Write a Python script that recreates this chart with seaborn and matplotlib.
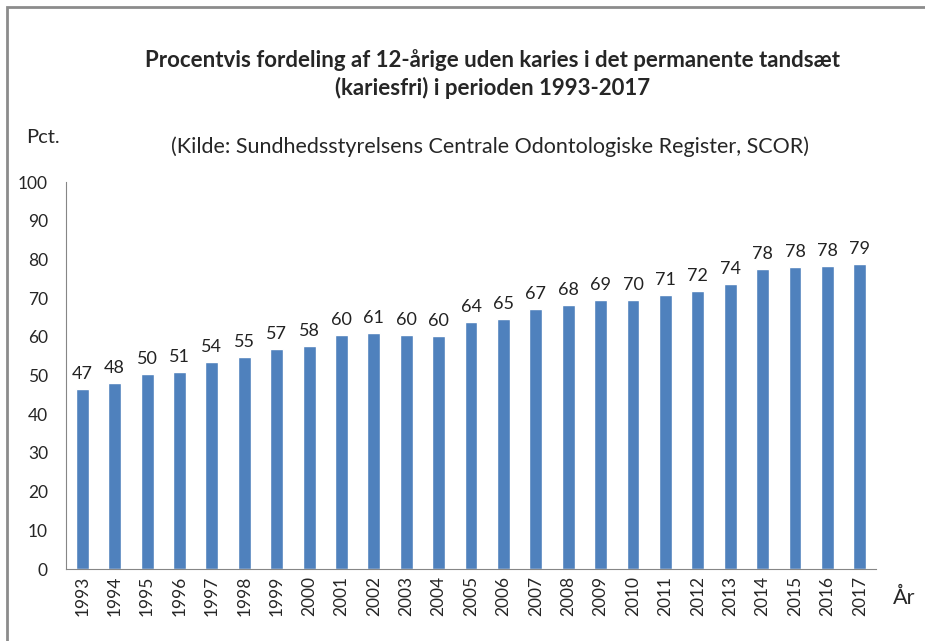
import numpy as np
import pandas as pd
import matplotlib
matplotlib.use("Agg")
import matplotlib.pyplot as plt
import seaborn as sns
from matplotlib.patches import Rectangle

aar = [str(a) for a in range(1993, 2018)]
kariesfri = [46.5, 48.1, 50.5, 51.0, 53.5, 54.7, 56.8, 57.6, 60.4, 60.9,
             60.4, 60.1, 63.8, 64.5, 67.2, 68.2, 69.4, 69.4, 70.9, 71.8,
             73.6, 77.5, 78.0, 78.3, 78.8]
etiketter = [47, 48, 50, 51, 54, 55, 57, 58, 60, 61, 60, 60, 64, 65, 67, 68,
             69, 70, 71, 72, 74, 78, 78, 78, 79]

df = pd.DataFrame({"aar": aar, "pct": kariesfri})

sns.set_style("white")
plt.rcParams['font.family'] = ['Lato', 'DejaVu Sans']

fig = plt.figure(figsize=(9.25, 6.41), dpi=100)
ax = fig.add_axes([0.0714, 0.1123, 0.8756, 0.6037])

sns.barplot(data=df, x="aar", y="pct", color="#4F81BD", width=0.4,
            saturation=1, ax=ax)

# dataetiketter over søjlerne
for i, v in enumerate(etiketter):
    ax.text(i, kariesfri[i] + 1.8, str(v), ha="center", va="bottom", fontsize=13, color="#222222")

ax.set_ylim(0, 100)
ax.set_xlim(-0.5, len(aar) - 0.5)
ax.set_yticks(range(0, 101, 10))
ax.set_xticks(np.arange(-0.5, len(aar), 1), minor=False)
ax.set_xticklabels([])
ax.set_xticks(range(len(aar)), minor=True)
ax.set_xticklabels(aar, minor=True, rotation=90, fontsize=12.5)
ax.tick_params(axis="x", which="major", length=5, color="#868686", direction="out")
ax.tick_params(axis="x", which="minor", length=0, pad=5)
ax.tick_params(axis="y", length=5, color="#868686", direction="out", labelsize=12.5, pad=8)
ax.set_xlabel("")
ax.set_ylabel("")
for s in ["top", "right"]:
    ax.spines[s].set_visible(False)
for s in ["left", "bottom"]:
    ax.spines[s].set_color("#868686")

fig.text(0.532, 0.906, "Procentvis fordeling af 12-årige uden karies i det permanente tandsæt",
         ha="center", va="center", fontsize=16, fontweight="bold")
fig.text(0.532, 0.862, "(kariesfri) i perioden 1993-2017", ha="center", va="center",
         fontsize=16, fontweight="bold")
fig.text(0.530, 0.771, "(Kilde: Sundhedsstyrelsens Centrale Odontologiske Register, SCOR)",
         ha="center", va="center", fontsize=15.5)
fig.text(0.028, 0.786, "Pct.", ha="left", va="center", fontsize=14.5)
fig.text(0.978, 0.067, "År", ha="center", va="center", fontsize=15.5)

fig.patches.append(Rectangle((0.008, -0.1), 1.5, 1.089, transform=fig.transFigure,
                             fill=False, edgecolor="#8c8c8c", linewidth=2))

fig.savefig("out.png", dpi=100)
